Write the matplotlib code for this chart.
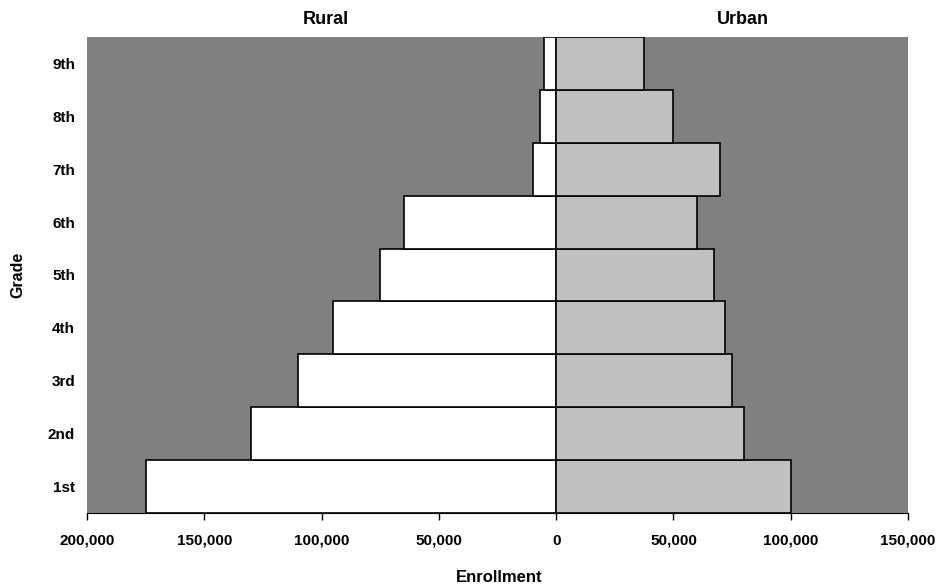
import matplotlib.pyplot as plt
from matplotlib.ticker import FuncFormatter

plt.rcParams['font.family'] = ['Liberation Sans', 'DejaVu Sans']

grades = ['1st', '2nd', '3rd', '4th', '5th', '6th', '7th', '8th', '9th']
rural = [175000, 130000, 110000, 95000, 75000, 65000, 10000, 7000, 5000]
urban = [100000, 80000, 75000, 72000, 67500, 60000, 70000, 50000, 37500]

fig = plt.figure(figsize=(9.36, 5.85), dpi=100)
ax = fig.add_axes([87/936, 1 - 513/585, (908 - 87)/936, (513 - 37)/585])
ax.set_facecolor('#808080')

y = range(len(grades))
ax.barh(y, [-v for v in rural], height=1.0, color='white', edgecolor='black', linewidth=1.2)
ax.barh(y, urban, height=1.0, color='#C0C0C0', edgecolor='black', linewidth=1.2)

ax.set_xlim(-200000, 150000)
ax.set_ylim(-0.5, len(grades) - 0.5)
ax.set_xticks(range(-200000, 150001, 50000))
ax.xaxis.set_major_formatter(FuncFormatter(lambda v, p: f'{abs(int(v)):,}'))
ax.set_yticks(list(y))
ax.set_yticklabels(grades)

for s in ['top', 'right', 'left']:
    ax.spines[s].set_visible(False)
ax.spines['bottom'].set_color('black')
ax.tick_params(axis='x', direction='out', length=5, width=1, pad=10, labelsize=11)
ax.tick_params(axis='y', length=0, pad=8.5, labelsize=11)
for lbl in ax.get_xticklabels() + ax.get_yticklabels():
    lbl.set_fontweight('bold')

# side headers, about 20px from the top of the figure
title_y = (585 - 20 - (585 - 513)) / (513 - 37)
ax.text(-98000, title_y, 'Rural', transform=ax.get_xaxis_transform(),
        ha='center', va='center', fontsize=13, fontweight='bold')
ax.text(79500, title_y, 'Urban', transform=ax.get_xaxis_transform(),
        ha='center', va='center', fontsize=13, fontweight='bold')
fig.text(499/936, 1 - 578/585, 'Enrollment', ha='center', va='center', fontsize=12, fontweight='bold')
fig.text(17.5/936, 1 - 274.5/585, 'Grade', ha='center', va='center', rotation=90, fontsize=11.5,
         fontweight='bold')

fig.savefig('out.png', dpi=100, facecolor='white')
